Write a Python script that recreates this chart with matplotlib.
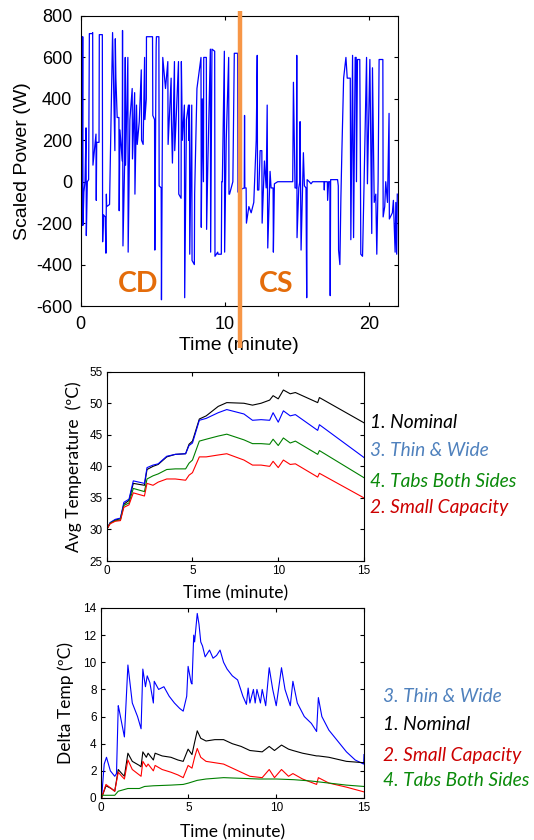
import matplotlib
matplotlib.use("Agg")
import matplotlib.pyplot as plt
import matplotlib.transforms as mtransforms

plt.rcParams["axes.unicode_minus"] = False

# ---------------- Top chart: scaled power ----------------
power_t = [0.00, 0.02, 0.05, 0.07, 0.10, 0.14, 0.16, 0.22, 0.30, 0.37, 0.39, 0.46, 0.55, 0.60, 0.80, 0.83, 0.85, 1.00,
           1.06, 1.08, 1.11, 1.27, 1.29, 1.50, 1.52, 1.58, 1.70, 1.75, 1.78, 1.80, 2.00, 2.21, 2.30, 2.37, 2.40, 2.44,
           2.53, 2.65, 2.67, 2.72, 2.88, 2.90, 2.93, 3.05, 3.09, 3.11, 3.27, 3.29, 3.41, 3.57, 3.59, 3.74, 3.76, 3.87,
           3.92, 4.06, 4.20, 4.22, 4.33, 4.43, 4.45, 4.55, 4.56, 4.98, 5.00, 5.12, 5.14, 5.23, 5.25, 5.42, 5.44, 5.58,
           5.60, 5.69, 5.88, 6.04, 6.06, 6.27, 6.29, 6.36, 6.50, 6.52, 6.64, 6.78, 6.80, 6.96, 6.98, 7.05, 7.19, 7.21,
           7.33, 7.47, 7.49, 7.54, 7.56, 7.70, 7.72, 7.88, 7.90, 8.06, 8.34, 8.36, 8.43, 8.51, 8.53, 8.71, 8.73, 8.82,
           8.99, 9.01, 9.10, 9.29, 9.31, 9.50, 9.52, 9.75, 9.78, 9.82, 9.96, 9.98, 10.09, 10.26, 10.28, 10.32, 10.55,
           10.65, 10.88, 10.90, 11.00, 11.34, 11.36, 11.38, 11.47, 11.49, 11.66, 11.82, 12.00, 12.17, 12.24, 12.26,
           12.35, 12.44, 12.56, 12.58, 12.74, 12.86, 12.93, 12.97, 13.13, 13.20, 13.34, 13.36, 13.43, 13.66, 14.70,
           14.75, 14.86, 14.96, 14.98, 15.00, 15.12, 15.19, 15.21, 15.28, 15.44, 15.51, 15.62, 15.67, 15.70, 15.85,
           15.97, 16.08, 16.87, 16.89, 16.91, 17.10, 17.12, 17.19, 17.28, 17.30, 17.33, 17.81, 17.86, 17.88, 17.97,
           18.04, 18.11, 18.23, 18.39, 18.48, 18.50, 18.69, 18.73, 18.85, 18.92, 19.03, 19.10, 19.12, 19.19, 19.35,
           19.40, 19.42, 19.54, 19.56, 19.65, 19.82, 19.88, 20.05, 20.18, 20.23, 20.35, 20.46, 20.53, 20.62, 20.69,
           20.95, 20.97, 21.08, 21.15, 21.27, 21.38, 21.40, 21.61, 21.68, 21.80, 21.85, 21.91, 21.95]
power_w = [250, 700, 700, -200, -210, 700, -210, -50, 0, 260, -260, 0, 10, 715, 715, 720, 80, 190,
           230, -90, 190, 190, 710, 710, -290, -160, -170, -345, -60, -120, -110, 720, 400, 150, 690, 500,
           310, 310, -140, 250, 100, 730, -310, 100, 600, 80, 600, -340, 300, 450, 110, 430, -60, 370,
           180, 290, 540, 200, 180, 600, 300, 400, 700, 700, 320, 300, -330, 650, 700, 700, -20, -30,
           -570, 600, 450, 580, 180, 500, 300, 90, 580, 150, 340, 580, -60, -80, 580, 200, 370, -560,
           300, 370, 200, 370, -350, 370, -380, -400, -60, 450, 600, -220, 400, 0, 600, 600, -230, 100,
           640, -340, 640, 630, -360, -340, -350, -350, 0, 0, 630, -340, 200, 600, -60, -60, 0,
           620, 620, -50, -40, -30, 320, -30, -30, -200, -120, -150, -100, 200, 610, -40,
           -40, 150, 150, -200, 100, -30, 370, -320, 50, -30, -30, -340, -10, 0, 0,
           480, -30, -30, 610, -270, -30, 0, 290, -330, 140, -20, -30, -560, 10, 0,
           -10, 0, 0, -40, 0, 0, -90, 0, 0, -550, 10, 10, -20, -330, -400,
           -80, 150, 500, 600, 500, 500, 500, -280, 610, -270, 600, 600, 0, 590, 590,
           0, -350, -360, -300, 0, 600, -10, 590, -250, 550, -100, -60, -350, 0, 590,
           590, -170, -120, 0, -100, 330, -180, -150, -90, -340, -100, -350, -60]
power_xticks = [0, 10, 20]
power_yticks = [-600, -400, -200, 0, 200, 400, 600, 800]
mode_switch_t = 11.06
mode_labels = ["CD", "CS"]

# ---------------- Middle chart: average temperature ----------------
avg_t = [0.0, 0.2, 0.5, 0.8, 1.0, 1.3, 1.55, 2.2, 2.35, 2.7, 3.0, 3.5, 4.0, 4.6, 4.8, 5.0, 5.4, 5.8, 6.5, 7.0,
         8.0, 8.5, 9.0, 9.5, 9.7, 10.0, 10.3, 10.7, 11.0, 12.3, 12.4, 15.0]
avg_nominal = [30.0, 31.0, 31.5, 31.7, 34.0, 34.6, 37.3, 37.0, 39.5, 40.0, 40.3, 41.5, 41.9, 42.0, 43.5, 44.0,
               47.5, 48.0, 49.5, 50.1, 50.0, 49.7, 50.0, 50.5, 51.2, 50.7, 52.1, 51.5, 51.7, 50.1, 50.9, 46.9]
avg_thin = [30.0, 31.1, 31.6, 31.8, 34.3, 34.8, 37.7, 37.3, 39.8, 40.2, 40.4, 41.6, 41.9, 42.0, 43.3, 43.7,
            47.3, 47.6, 48.5, 49.0, 48.3, 47.3, 47.4, 47.3, 48.5, 47.0, 48.8, 48.0, 48.2, 45.7, 46.6, 41.4]
avg_tabs = [30.0, 31.0, 31.4, 31.5, 33.8, 34.2, 36.5, 36.0, 38.0, 38.5, 38.8, 39.5, 39.6, 39.6, 40.5, 41.0,
            44.0, 44.3, 44.8, 45.1, 44.2, 43.6, 43.6, 43.5, 44.3, 43.3, 44.5, 43.7, 44.0, 41.9, 42.5, 38.2]
avg_small = [30.0, 30.9, 31.3, 31.4, 33.5, 33.9, 35.8, 35.3, 37.3, 37.0, 37.5, 38.0, 38.0, 37.8, 38.6, 39.0,
             41.5, 41.5, 41.8, 42.0, 41.0, 40.2, 40.2, 40.0, 40.8, 39.8, 41.0, 40.3, 40.4, 38.3, 38.9, 35.0]

# ---------------- Bottom chart: delta temperature ----------------
dt_thin_t = [0.0, 0.05, 0.2, 0.33, 0.55, 0.8, 0.9, 1.0, 1.05, 1.35, 1.55, 1.8, 2.1, 2.3, 2.4, 2.55, 2.65, 2.8,
             3.0, 3.05, 3.3, 3.6, 3.9, 4.2, 4.5, 4.7, 4.9, 4.98, 5.15, 5.2, 5.3, 5.35, 5.5, 5.6, 5.7, 5.8, 5.95,
             6.2, 6.4, 6.6, 6.8, 7.0, 7.2, 7.5, 7.8, 8.1, 8.3, 8.4, 8.5, 8.7, 8.8, 8.9, 9.1, 9.2, 9.4, 9.6, 9.8,
             10.0, 10.3, 10.5, 10.7, 10.8, 10.95, 11.2, 11.6, 12.0, 12.3, 12.4, 12.6, 13.0, 13.5, 14.0, 14.5,
             14.98, 15.0]
dt_thin = [0.0, 0.0, 2.5, 3.0, 2.0, 1.6, 1.8, 6.8, 6.5, 4.5, 9.8, 7.0, 6.0, 5.1, 9.5, 8.2, 9.0, 8.5,
           7.0, 8.6, 8.0, 8.2, 7.5, 7.0, 6.6, 6.4, 7.5, 9.7, 8.5, 8.4, 12.0, 11.5, 13.6, 12.8, 11.5, 11.2, 10.4,
           10.9, 10.3, 10.5, 10.9, 10.0, 9.5, 9.0, 8.7, 7.5, 6.9, 8.1, 7.0, 8.0, 7.0, 8.0, 7.0, 8.0, 6.8, 9.6, 8.0,
           6.8, 9.6, 8.0, 7.2, 6.8, 8.6, 7.0, 6.0, 5.5, 4.9, 7.4, 6.0, 5.0, 4.2, 3.4, 2.8,
           2.5, 3.2]
dt_t = [0.0, 0.05, 0.3, 0.6, 0.8, 1.0, 1.2, 1.35, 1.55, 1.8, 2.2, 2.3, 2.4, 2.6, 2.7, 3.0, 3.1, 3.5, 4.0, 4.4,
        4.7, 4.98, 5.2, 5.35, 5.5, 5.7, 6.0, 6.5, 7.0, 7.5, 8.0, 8.5, 9.2, 9.6, 9.9, 10.3, 10.7, 10.95, 11.5,
        12.3, 12.4, 13.0, 14.0, 15.0]
dt_nominal = [0.0, 0.0, 0.9, 0.7, 0.5, 2.1, 1.8, 1.6, 3.3, 2.7, 2.4, 2.3, 3.4, 3.0, 3.3, 2.8, 3.3, 3.1, 3.0, 2.8,
              2.7, 3.6, 3.2, 4.1, 4.95, 4.4, 4.2, 4.3, 4.3, 4.0, 3.8, 3.5, 3.4, 3.8, 3.5, 3.9, 3.6, 3.5, 3.3,
              3.1, 3.1, 3.0, 2.7, 2.6]
dt_small = [0.0, 0.0, 1.0, 0.7, 0.5, 1.9, 1.6, 1.4, 2.8, 2.1, 1.7, 1.6, 2.7, 2.3, 2.5, 2.0, 2.4, 2.1, 1.9, 1.7,
            1.5, 2.4, 2.2, 3.0, 3.65, 3.0, 2.7, 2.6, 2.5, 2.2, 1.9, 1.6, 1.5, 2.1, 1.5, 2.1, 1.6, 1.8, 1.4,
            1.0, 1.5, 1.1, 0.8, 0.45]
dt_tabs_t = [0.0, 0.1, 0.8, 1.0, 1.55, 2.2, 2.5, 3.0, 4.0, 4.7, 5.0, 5.5, 6.0, 7.0, 8.0, 9.0, 10.0, 11.0, 12.0,
             13.0, 14.0, 15.0]
dt_tabs = [0.0, 0.2, 0.2, 0.5, 0.7, 0.7, 0.85, 0.9, 0.95, 1.0, 1.1, 1.3, 1.4, 1.5, 1.45, 1.4, 1.4, 1.35, 1.25,
           1.1, 0.95, 0.85]

labels_avg = ["1. Nominal", "3. Thin & Wide", "4. Tabs Both Sides", "2. Small Capacity"]
labels_dt = ["3. Thin & Wide", "1. Nominal", "2. Small Capacity", "4. Tabs Both Sides"]

C_BLACK, C_BLUE, C_GREEN, C_RED = "#000000", "#0000ff", "#008000", "#ff0000"
T_BLACK, T_BLUE, T_GREEN, T_RED = "#000000", "#4f81bd", "#0a8a0a", "#cc0000"

W, H = 534, 840
fig = plt.figure(figsize=(W / 100, H / 100), dpi=100)

def fx(px):
    return px / W

def fy(py):
    return 1 - py / H

SANS = ["Liberation Sans", "DejaVu Sans"]
HUM = ["Lato", "Open Sans", "DejaVu Sans"]

def style_axes(ax, tick_size, tick_font):
    ax.tick_params(direction="in", top=True, right=True, length=3, width=0.8,
                   labelsize=tick_size, pad=3)
    for lab in ax.get_xticklabels() + ax.get_yticklabels():
        lab.set_fontfamily(tick_font)
    for s in ax.spines.values():
        s.set_linewidth(0.8)

# ---- top ----
ax1 = fig.add_axes([fx(80.7), fy(306), fx(398 - 80.7), (306 - 16) / H])
ax1.plot(power_t, power_w, color="#0000ff", lw=0.9)
ax1.set_xlim(0, 22)
ax1.set_ylim(-600, 800)
ax1.set_xticks(power_xticks)
ax1.set_yticks(power_yticks)
style_axes(ax1, 13, SANS)
ax1.tick_params(axis="x", pad=7)
ax1.tick_params(axis="y", pad=6)
ax1.set_xlabel("Time (minute)", fontsize=14, family=SANS, labelpad=3)
ax1.set_ylabel("Scaled Power (W)", fontsize=14, family=SANS, labelpad=4)
trans = mtransforms.blended_transform_factory(ax1.transData, fig.transFigure)
ax1.plot([mode_switch_t, mode_switch_t], [fy(348), fy(11)], color="#f79646", lw=3.2,
         transform=trans, clip_on=False, solid_capstyle="butt", zorder=5)
ax1.text(4.0, -494, mode_labels[0], color="#e46c0a", fontsize=20.5, fontweight="bold", family=HUM,
         ha="center", va="center")
ax1.text(13.57, -494, mode_labels[1], color="#e46c0a", fontsize=20.5, fontweight="bold", family=HUM,
         ha="center", va="center")

# ---- middle ----
ax2 = fig.add_axes([fx(106.7), fy(561), fx(364 - 106.7), (561 - 371.7) / H])
ax2.plot(avg_t, avg_nominal, color=C_BLACK, lw=0.8)
ax2.plot(avg_t, avg_thin, color=C_BLUE, lw=0.8)
ax2.plot(avg_t, avg_tabs, color=C_GREEN, lw=0.8)
ax2.plot(avg_t, avg_small, color=C_RED, lw=0.8)
ax2.set_xlim(0, 15)
ax2.set_ylim(25, 55)
ax2.set_xticks([0, 5, 10, 15])
ax2.set_yticks([25, 30, 35, 40, 45, 50, 55])
style_axes(ax2, 8.5, SANS)
ax2.set_xlabel("Time (minute)", fontsize=12.5, family=HUM, labelpad=6)
ax2.set_ylabel("Avg Temperature  (ºC)", fontsize=12.5, family=HUM, labelpad=5)
for lab, col, py in zip(labels_avg, [T_BLACK, T_BLUE, T_GREEN, T_RED], [423, 451, 482, 507]):
    fig.text(fx(370), fy(py), lab, color=col, fontsize=13.8, style="italic", family=HUM,
             ha="left", va="center")

# ---- bottom ----
ax3 = fig.add_axes([fx(100.7), fy(798), fx(364 - 100.7), (798 - 608) / H])
ax3.plot(dt_thin_t, dt_thin, color=C_BLUE, lw=0.8)
ax3.plot(dt_t, dt_nominal, color=C_BLACK, lw=0.8)
ax3.plot(dt_t, dt_small, color=C_RED, lw=0.8)
ax3.plot(dt_tabs_t, dt_tabs, color=C_GREEN, lw=0.8)
ax3.set_xlim(0, 15)
ax3.set_ylim(0, 14)
ax3.set_xticks([0, 5, 10, 15])
ax3.set_yticks([0, 2, 4, 6, 8, 10, 12, 14])
style_axes(ax3, 8.5, SANS)
ax3.set_xlabel("Time (minute)", fontsize=12.5, family=HUM, labelpad=7)
ax3.set_ylabel("Delta Temp (ºC)", fontsize=12.5, family=HUM, labelpad=7)
for lab, col, py in zip(labels_dt, [T_BLUE, T_BLACK, T_RED, T_GREEN], [696, 725, 756, 781]):
    fig.text(fx(383), fy(py), lab, color=col, fontsize=13.8, style="italic", family=HUM,
             ha="left", va="center")

fig.savefig("out.png", dpi=100)
